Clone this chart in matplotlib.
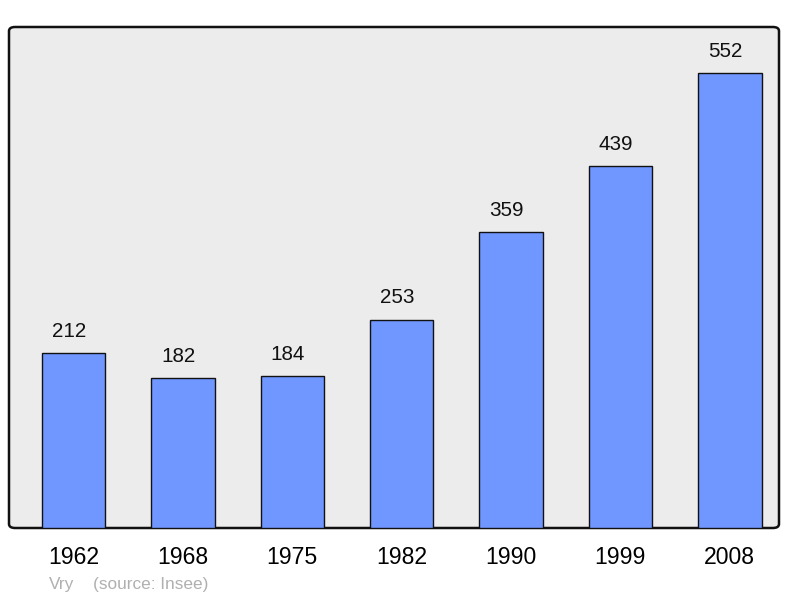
import matplotlib.pyplot as plt
from matplotlib.patches import FancyBboxPatch
from matplotlib.transforms import offset_copy

years = ['1962', '1968', '1975', '1982', '1990', '1999', '2008']
population = [212, 182, 184, 253, 359, 439, 552]

plt.rcParams['font.family'] = ['Liberation Sans', 'DejaVu Sans']

fig = plt.figure(figsize=(8, 5.98), dpi=100)
ax = fig.add_axes([9 / 800, 70 / 598, 770 / 800, 501 / 598])
ax.set_facecolor('none')

# rounded frame behind the bars
frame = FancyBboxPatch((0, 0), 1, 1, boxstyle='round,pad=0,rounding_size=0.008',
                       transform=ax.transAxes, facecolor='#ececec',
                       edgecolor='#111111', linewidth=1.8, zorder=0, clip_on=False)
ax.add_patch(frame)

x = range(len(years))
ax.bar(x, population, width=0.58, color='#7096ff', edgecolor='#111111',
       linewidth=1.0, zorder=2)
# labels sit a little left of the bar centres in the original
lbl_tr = offset_copy(ax.transData, fig=fig, x=-4.5, y=0, units='dots')
for i, v in zip(x, population):
    ax.text(i, v + 15, str(v), ha='center', va='bottom', fontsize=14.9,
            color='#111111', transform=lbl_tr)

ax.set_xlim(-0.59, 6.45)
ax.set_ylim(0, 608)
for s in ax.spines.values():
    s.set_visible(False)
ax.set_yticks([])
ax.set_xticks(list(x))
ax.set_xticklabels(years, fontsize=16.6)
ax.tick_params(axis='x', length=0, pad=13)

fig.text(49 / 800, 1 - 584 / 598, 'Vry', fontsize=12.4, color='#b0b0b0', va='center')
fig.text(93 / 800, 1 - 584 / 598, '(source: Insee)', fontsize=12.4, color='#b0b0b0', va='center')

plt.savefig('out.png', dpi=100)
